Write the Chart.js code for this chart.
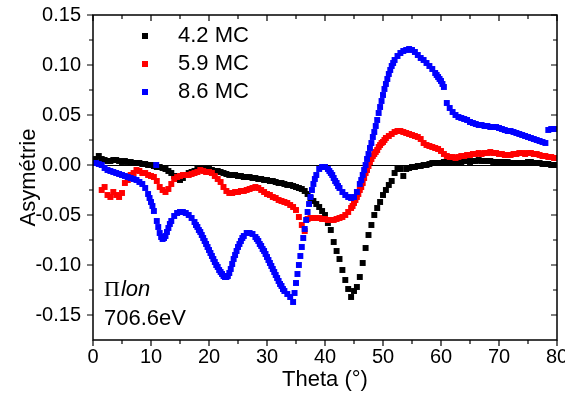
<!DOCTYPE html>
<html>
<head>
<meta charset="utf-8">
<script src="https://cdn.jsdelivr.net/npm/chart.js"></script>
<style>
  body { margin: 0; background: #fff; }
</style>
</head>
<body>
<canvas id="asym-chart" width="565" height="398"></canvas>
<script>
/* data, theta step 0.5 deg */
var theta = [
  0, 0.5, 1, 1.5, 2, 2.5, 3, 3.5, 4, 4.5,
  5, 5.5, 6, 6.5, 7, 7.5, 8, 8.5, 9, 9.5,
  10, 10.5, 11, 11.5, 12, 12.5, 13, 13.5, 14, 14.5,
  15, 15.5, 16, 16.5, 17, 17.5, 18, 18.5, 19, 19.5,
  20, 20.5, 21, 21.5, 22, 22.5, 23, 23.5, 24, 24.5,
  25, 25.5, 26, 26.5, 27, 27.5, 28, 28.5, 29, 29.5,
  30, 30.5, 31, 31.5, 32, 32.5, 33, 33.5, 34, 34.5,
  35, 35.5, 36, 36.5, 37, 37.5, 38, 38.5, 39, 39.5,
  40, 40.5, 41, 41.5, 42, 42.5, 43, 43.5, 44, 44.5,
  45, 45.5, 46, 46.5, 47, 47.5, 48, 48.5, 49, 49.5,
  50, 50.5, 51, 51.5, 52, 52.5, 53, 53.5, 54, 54.5,
  55, 55.5, 56, 56.5, 57, 57.5, 58, 58.5, 59, 59.5,
  60, 60.5, 61, 61.5, 62, 62.5, 63, 63.5, 64, 64.5,
  65, 65.5, 66, 66.5, 67, 67.5, 68, 68.5, 69, 69.5,
  70, 70.5, 71, 71.5, 72, 72.5, 73, 73.5, 74, 74.5,
  75, 75.5, 76, 76.5, 77, 77.5, 78, 78.5, 79, 79.5,
  80
];

var mc42 = [
  0.004, 0.006, 0.009, 0.006, 0.005, 0.004, 0.004, 0.005, 0.005, 0.004,
  0.003, 0.004, 0.003, 0.003, 0.002, 0.002, 0.002, 0.001, 0.001, 0.000,
  0.000, -0.001, -0.002, -0.002, -0.003, -0.004, -0.006, -0.008, -0.011, -0.014,
  -0.015, -0.013, -0.010, -0.008, -0.007, -0.006, -0.004, -0.003, -0.003, -0.003,
  -0.004, -0.005, -0.006, -0.006, -0.007, -0.008, -0.009, -0.010, -0.010, -0.010,
  -0.011, -0.011, -0.012, -0.012, -0.012, -0.013, -0.013, -0.014, -0.014, -0.015,
  -0.015, -0.016, -0.016, -0.017, -0.018, -0.018, -0.019, -0.020, -0.020, -0.021,
  -0.022, -0.023, -0.024, -0.026, -0.029, -0.033, -0.036, -0.039, -0.042, -0.046,
  -0.050, -0.058, -0.065, -0.077, -0.086, -0.094, -0.105, -0.115, -0.124, -0.132,
  -0.126, -0.122, -0.112, -0.098, -0.083, -0.070, -0.060, -0.050, -0.043, -0.037,
  -0.030, -0.025, -0.020, -0.016, -0.008, -0.004, -0.004, -0.011, -0.004, -0.003,
  -0.002, -0.002, -0.001, -0.001, 0.000, 0.000, 0.001, 0.002, 0.002, 0.002,
  0.002, 0.003, 0.003, 0.003, 0.003, 0.003, 0.003, 0.003, 0.004, 0.004,
  0.003, 0.004, 0.004, 0.005, 0.004, 0.004, 0.004, 0.004, 0.003, 0.003,
  0.003, 0.003, 0.003, 0.003, 0.002, 0.002, 0.002, 0.002, 0.002, 0.002,
  0.003, 0.003, 0.002, 0.002, 0.002, 0.001, 0.001, 0.001, 0.000, 0.000,
  0.000
];

var mc59 = [
  null, null, null, -0.025, -0.022, -0.030, -0.032, -0.027, -0.030, -0.032,
  -0.028, -0.018, -0.015, -0.010, -0.008, -0.005, -0.006, -0.008, -0.008, -0.010,
  -0.011, -0.012, -0.016, -0.022, -0.025, -0.027, -0.024, -0.019, -0.014, -0.012,
  -0.011, -0.010, -0.010, -0.010, -0.009, -0.008, -0.007, -0.005, -0.006, -0.007,
  -0.007, -0.008, -0.011, -0.014, -0.017, -0.022, -0.026, -0.028, -0.028, -0.027,
  -0.027, -0.026, -0.026, -0.025, -0.024, -0.023, -0.022, -0.023, -0.025, -0.027,
  -0.029, -0.030, -0.032, -0.033, -0.035, -0.036, -0.037, -0.038, -0.040, -0.042,
  -0.045, -0.052, -0.060, -0.066, -0.054, -0.053, -0.053, -0.053, -0.053, -0.054,
  -0.054, -0.055, -0.055, -0.055, -0.054, -0.053, -0.052, -0.050, -0.047, -0.043,
  -0.038, -0.032, -0.025, -0.018, -0.008, -0.001, 0.006, 0.011, 0.015, 0.020,
  0.023, 0.027, 0.029, 0.031, 0.033, 0.034, 0.034, 0.033, 0.032, 0.031,
  0.030, 0.029, 0.028, 0.026, 0.022, 0.020, 0.019, 0.018, 0.017, 0.016,
  0.014, 0.011, 0.009, 0.008, 0.008, 0.007, 0.008, 0.009, 0.009, 0.010,
  0.010, 0.011, 0.011, 0.012, 0.011, 0.012, 0.012, 0.013, 0.012, 0.012,
  0.011, 0.011, 0.010, 0.010, 0.010, 0.011, 0.011, 0.012, 0.012, 0.011,
  0.012, 0.012, 0.011, 0.011, 0.010, 0.009, 0.009, 0.008, 0.008, 0.007,
  0.007
];
// denser readings where the red trace climbs steeply
var mc59ExtraTheta = [44.75, 45.25, 45.75, 46.25, 46.75, 47.25, 47.75, 48.25, 48.75, 49.25, 49.75, 50.25];
var mc59Extra = [-0.041, -0.035, -0.029, -0.022, -0.013, -0.005, 0.003, 0.009, 0.013, 0.018, 0.022, 0.025];

var mc86 = [
  0.002, 0.002, 0.001, 0.000, -0.003, -0.005, -0.006, -0.007, -0.008, -0.009,
  -0.010, -0.011, -0.012, -0.013, -0.014, -0.015, -0.017, -0.019, -0.023, -0.029,
  -0.037, -0.046, -0.056, -0.068, -0.074, -0.071, -0.063, -0.056, -0.051, -0.048,
  -0.047, -0.047, -0.048, -0.050, -0.053, -0.057, -0.062, -0.067, -0.073, -0.079,
  -0.085, -0.091, -0.097, -0.102, -0.107, -0.111, -0.112, -0.108, -0.099, -0.090,
  -0.082, -0.076, -0.071, -0.068, -0.068, -0.069, -0.072, -0.076, -0.081, -0.086,
  -0.092, -0.098, -0.104, -0.110, -0.116, -0.121, -0.126, -0.129, -0.132, -0.137,
  -0.118, -0.100, -0.082, -0.064, -0.047, -0.032, -0.019, -0.010, -0.004, -0.002,
  -0.002, -0.004, -0.008, -0.013, -0.018, -0.023, -0.027, -0.030, -0.032, -0.033,
  -0.032, -0.027, -0.019, -0.010, 0.000, 0.011, 0.022, 0.033, 0.045, 0.058,
  0.070, 0.081, 0.091, 0.099, 0.105, 0.109, 0.112, 0.114, 0.115, 0.116,
  0.115, 0.113, 0.110, 0.107, 0.105, 0.102, 0.099, 0.096, 0.092, 0.088,
  0.084, 0.078, 0.062, 0.057, 0.053, 0.050, 0.048, 0.047, 0.046, 0.045,
  0.043, 0.042, 0.041, 0.040, 0.040, 0.039, 0.039, 0.038, 0.038, 0.038,
  0.037, 0.036, 0.035, 0.034, 0.034, 0.033, 0.032, 0.031, 0.030, 0.029,
  0.028, 0.027, 0.026, 0.025, 0.024, 0.023, 0.022, 0.035, 0.036, 0.036,
  0.036
];
// denser readings on the steep parts of the blue trace
var mc86ExtraTheta = [
  9.75, 10.25, 11.25, 11.75, 12.25, 12.75, 13.25,
  17.75, 18.25, 18.75, 19.25, 19.75, 20.25, 20.75, 21.25, 21.75, 22.25,
  22.75, 23.25, 23.75, 24.25, 24.75, 25.25, 25.75,
  28.25, 28.75, 29.25, 29.75, 30.25, 30.75, 31.25, 31.75, 32.25, 32.75,
  34.75, 35.25, 35.75, 36.25, 36.75, 37.25, 37.75, 38.25,
  40.75, 41.25, 41.75, 42.25,
  46.25, 46.75, 47.25, 47.75, 48.25, 48.75, 49.25, 49.75, 50.25, 50.75, 51.25, 51.75,
  59.25, 59.75, 60.25
];
var mc86Extra = [
  -0.033, -0.041, -0.062, -0.072, -0.073, -0.067, -0.059,
  -0.060, -0.065, -0.070, -0.076, -0.082, -0.088, -0.094, -0.100, -0.105, -0.109,
  -0.112, -0.111, -0.104, -0.094, -0.086, -0.079, -0.073,
  -0.074, -0.079, -0.084, -0.089, -0.095, -0.101, -0.107, -0.113, -0.119, -0.124,
  -0.128, -0.109, -0.091, -0.073, -0.055, -0.039, -0.025, -0.014,
  -0.006, -0.010, -0.016, -0.021,
  -0.015, -0.005, 0.006, 0.017, 0.028, 0.039, 0.052, 0.064, 0.076, 0.086, 0.095, 0.102,
  0.090, 0.086, 0.081
];
// single stray blue point sitting on the zero line
var mc86StrayTheta = [10.9];
var mc86Stray = [0.000];

var seriesLabels = ['4.2 MC', '5.9 MC', '8.6 MC'];
var seriesColors = ['#000000', '#ff0000', '#0000ff'];

var xTicks = [0, 10, 20, 30, 40, 50, 60, 70, 80];
var xMinorTicks = [5, 15, 25, 35, 45, 55, 65, 75];
var yTicks = [-0.15, -0.10, -0.05, 0.00, 0.05, 0.10, 0.15];
var yMinorTicks = [-0.125, -0.075, -0.025, 0.025, 0.075, 0.125];

function toPoints(xs, ys){
    var pts = [];
    for(var i = 0; i < xs.length; i++){
        if(ys[i] !== null) pts.push({x: xs[i], y: ys[i]});
    }
    return pts;
}

/* frame, ticks, zero line, legend and text labels */
var framePlugin = {
    id: 'frame',
    beforeDatasetsDraw: function(chart){
        var ctx = chart.ctx;
        var a = chart.chartArea;
        var y0 = Math.round(chart.scales.y.getPixelForValue(0)) + 0.5;
        ctx.save();
        ctx.strokeStyle = '#000';
        ctx.lineWidth = 1;
        ctx.beginPath();
        ctx.moveTo(a.left, y0);
        ctx.lineTo(a.right, y0);
        ctx.stroke();
        ctx.restore();
    },
    afterDraw: function(chart){
        var ctx = chart.ctx;
        var a = chart.chartArea;
        var sx = chart.scales.x;
        var sy = chart.scales.y;
        ctx.save();
        ctx.strokeStyle = '#000';
        ctx.lineWidth = 1.5;
        ctx.strokeRect(a.left, a.top, a.right - a.left, a.bottom - a.top);

        ctx.lineWidth = 1.2;
        ctx.beginPath();
        function xTick(v, len){
            var px = sx.getPixelForValue(v);
            ctx.moveTo(px, a.bottom); ctx.lineTo(px, a.bottom + len);
            ctx.moveTo(px, a.top); ctx.lineTo(px, a.top + len);
        }
        function yTick(v, len){
            var py = sy.getPixelForValue(v);
            ctx.moveTo(a.left, py); ctx.lineTo(a.left - len, py);
            ctx.moveTo(a.right, py); ctx.lineTo(a.right - len, py);
        }
        xTicks.forEach(function(v){ xTick(v, 6); });
        xMinorTicks.forEach(function(v){ xTick(v, 4); });
        yTicks.forEach(function(v){ yTick(v, 6); });
        yMinorTicks.forEach(function(v){ yTick(v, 4); });
        ctx.stroke();

        // legend
        var legY = [36, 64, 92];
        ctx.font = '22px "Liberation Sans", Arial, sans-serif';
        ctx.textBaseline = 'middle';
        ctx.textAlign = 'left';
        for(var i = 0; i < seriesLabels.length; i++){
            ctx.fillStyle = seriesColors[i];
            ctx.fillRect(142, legY[i] - 3, 6, 6);
            ctx.fillStyle = '#000';
            ctx.fillText(seriesLabels[i], 178, legY[i]);
        }

        // annotation
        ctx.textBaseline = 'alphabetic';
        ctx.font = '22px "Liberation Serif", "Times New Roman", serif';
        ctx.fillText('\u03A0', 104, 296);
        var w = ctx.measureText('\u03A0').width;
        ctx.font = 'italic 22px "Liberation Sans", Arial, sans-serif';
        ctx.fillText('lon', 104 + w + 1, 296);
        ctx.font = '22px "Liberation Sans", Arial, sans-serif';
        ctx.fillText('706.6eV', 104, 325);
        ctx.restore();
    }
};

function noScalePadding(s){
    s.paddingLeft = 0;
    s.paddingRight = 0;
    s.paddingTop = 0;
    s.paddingBottom = 0;
}

var ctx = document.getElementById('asym-chart');
var config = {
    type: 'scatter',
    data: {
        datasets: [
            {
                label: seriesLabels[0],
                data: toPoints(theta, mc42),
                backgroundColor: seriesColors[0],
                order: 3
            },
            {
                label: seriesLabels[1],
                data: toPoints(theta, mc59).concat(toPoints(mc59ExtraTheta, mc59Extra)),
                backgroundColor: seriesColors[1],
                order: 2
            },
            {
                label: seriesLabels[2],
                data: toPoints(theta, mc86)
                    .concat(toPoints(mc86ExtraTheta, mc86Extra))
                    .concat(toPoints(mc86StrayTheta, mc86Stray)),
                backgroundColor: seriesColors[2],
                order: 1
            }
        ]
    },
    options: {
        responsive: false,
        animation: false,
        devicePixelRatio: 1,
        layout: { padding: { top: 15, right: 8, left: 0, bottom: 0 } },
        elements: {
            point: { pointStyle: 'rect', radius: 4.2, borderWidth: 0, hoverRadius: 4.2 }
        },
        plugins: {
            legend: { display: false },
            tooltip: { enabled: false }
        },
        scales: {
            x: {
                type: 'linear',
                position: 'bottom',
                min: 0,
                max: 80,
                afterFit: function(s){ s.height = 58; noScalePadding(s); },
                afterBuildTicks: function(s){
                    s.ticks = xTicks.map(function(v){ return {value: v}; });
                },
                grid: { display: false, drawTicks: false },
                border: { display: false },
                ticks: {
                    padding: 5,
                    color: '#000',
                    maxRotation: 0,
                    font: { family: '"Liberation Sans", Arial, sans-serif', size: 20 },
                    callback: function(v){ return String(v); }
                },
                title: {
                    display: true,
                    text: 'Theta (°)',
                    color: '#000',
                    font: { family: '"Liberation Sans", Arial, sans-serif', size: 22 },
                    padding: { top: 0, bottom: 5 }
                }
            },
            y: {
                min: -0.175,
                max: 0.15,
                afterFit: function(s){ s.width = 93; noScalePadding(s); },
                afterBuildTicks: function(s){
                    s.ticks = yTicks.map(function(v){ return {value: v}; });
                },
                grid: { display: false, drawTicks: false },
                border: { display: false },
                ticks: {
                    padding: 12,
                    color: '#000',
                    font: { family: '"Liberation Sans", Arial, sans-serif', size: 20 },
                    callback: function(v){ return v.toFixed(2); }
                },
                title: {
                    display: true,
                    text: 'Asymétrie',
                    color: '#000',
                    font: { family: '"Liberation Sans", Arial, sans-serif', size: 22 },
                    padding: { top: 16, bottom: 0 }
                }
            }
        }
    },
    plugins: [framePlugin]
};
var asymChart = new Chart(ctx, config);
</script>
</body>
</html>
